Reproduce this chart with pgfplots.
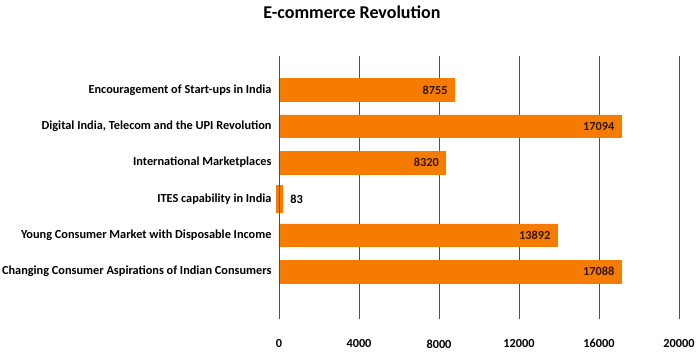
\documentclass[border=0pt]{standalone}
\usepackage{pgfplots}
\pgfplotsset{compat=1.18}
\usepackage{fontspec}
\setmainfont{Carlito}
\definecolor{barorange}{RGB}{245,124,0}
\definecolor{gridgray}{RGB}{80,80,80}
\definecolor{lbl}{RGB}{50,20,0}
\begin{document}
\begin{tikzpicture}
\useasboundingbox (0,0) rectangle (699pt,354pt);
\begin{axis}[
  at={(279pt,35pt)}, anchor=south west,
  scale only axis, width=400pt, height=263pt,
  xmin=0, xmax=20000, ymin=-1.3, ymax=5.93,
  xtick={0,4000,8000,12000,16000,20000},
  scaled x ticks=false,
  xticklabel style={font=\fontsize{12.3}{14}\selectfont\bfseries, yshift=-17pt},
  /pgf/number format/assume math mode=true,
  /pgf/number format/1000 sep={},
  ytick={0,1,2,3,4,5},
  yticklabels={Changing Consumer Aspirations of Indian Consumers,
    Young Consumer Market with Disposable Income,
    ITES capability in India,
    International Marketplaces,
    {Digital India, Telecom and the UPI Revolution},
    Encouragement of Start-ups in India},
  yticklabel style={font=\fontsize{12.3}{14}\selectfont\bfseries, xshift=-4pt},
  major tick length=0pt,
  axis line style={draw=none},
  xmajorgrids, grid style={gridgray, line width=0.9pt},
  title={E-commerce Revolution},
  title style={at={(0.1825,1)}, anchor=center, yshift=38pt, font=\fontsize{18}{20}\selectfont\bfseries},
  clip=false,
]
\addplot[xbar, bar shift=0pt, bar width=22.7pt, fill=barorange, draw=barorange,
  nodes near coords,
  every node near coord/.append style={font=\fontsize{12.3}{14}\selectfont\bfseries, text=lbl, anchor=east, xshift=-3pt}]
  table[x=v, y=c] {
c v
0 17088
1 13892
3 8320
4 17094
5 8755
};
\addplot[xbar, bar shift=0pt, bar width=22.7pt, fill=barorange, draw=barorange, line width=5pt,
  nodes near coords,
  every node near coord/.append style={font=\fontsize{12.3}{14}\selectfont\bfseries, text=black, anchor=west, xshift=4pt}]
  table[x=v, y=c] {
c v
2 83
};
\draw[gridgray, line width=0.9pt] (axis cs:0,-1.3) -- (axis cs:0,5.93);
\end{axis}
\end{tikzpicture}
\end{document}
